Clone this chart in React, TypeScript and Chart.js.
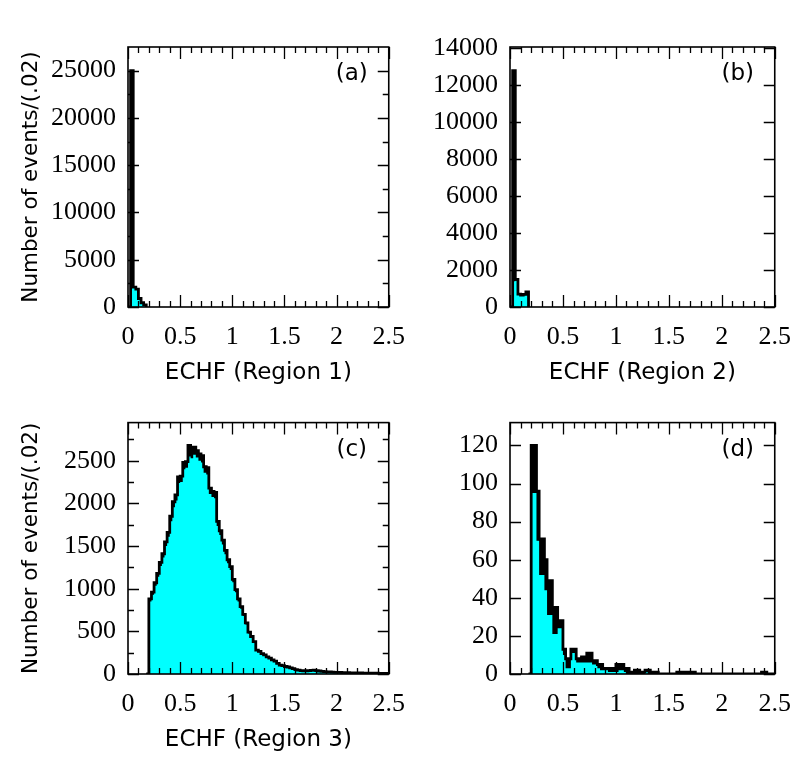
import React, { useEffect, useRef } from "react";
import { Chart, registerables } from "chart.js";

Chart.register(...registerables);

// ---------------- data ----------------
const BIN_WIDTH = 0.025;
const X_TICKS = [0, 0.5, 1, 1.5, 2, 2.5];
const Y_TITLE = "Number of events/(.02)";

// (a) Region 1
const startA = 0;
const totalA = [25000, 2100, 1900, 900, 450, 220, 100];
const cyanA = [2000, 2050, 1800, 750, 350, 150, 60];
const yTicksA = [0, 5000, 10000, 15000, 20000, 25000];
const yMaxA = 27500;

// (b) Region 2
const startB = 0;
const totalB = [12800, 1500, 700, 650, 680, 820, 820];
const cyanB = [1400, 1420, 650, 600, 630, 780, 780];
const yTicksB = [0, 2000, 4000, 6000, 8000, 10000, 12000, 14000];
const yMaxB = 14080;

// (c) Region 3
const startC = 0.175;
const totalC = [
  880, 960, 1070, 1180, 1310, 1410, 1550, 1660, 1850, 2020,
  2100, 2310, 2320, 2480, 2490, 2680, 2600, 2660, 2620, 2580,
  2560, 2430, 2420, 2180, 2140, 2130, 1790, 1680, 1570, 1450,
  1340, 1260, 1110, 990, 880, 790, 700, 600, 490, 440,
  380, 280, 265, 240, 225, 200, 185, 165, 150, 125,
  105, 98, 88, 82, 72, 62, 52, 46, 40, 38,
  36, 40, 42, 44, 40, 35, 30, 28, 25, 25,
  22, 20, 18, 18, 16, 15, 15, 14, 14, 13,
  12, 12, 11, 10, 10, 10, 9, 9, 8, 8,
  8, 7, 6,
];
const cyanC = [
  850, 930, 1035, 1140, 1265, 1365, 1500, 1610, 1790, 1955,
  2035, 2240, 2250, 2400, 2420, 2550, 2530, 2570, 2540, 2500,
  2480, 2360, 2340, 2110, 2075, 2060, 1735, 1630, 1520, 1405,
  1300, 1220, 1075, 960, 850, 765, 680, 580, 475, 425,
  365, 270, 255, 230, 215, 190, 175, 158, 143, 118,
  100, 93, 83, 78, 68, 58, 49, 43, 37, 35,
  33, 37, 39, 41, 37, 32, 28, 26, 23, 23,
  20, 18, 16, 16, 14, 13, 13, 12, 12, 11,
  10, 10, 9, 8, 8, 8, 7, 7, 6, 6,
  6, 5, 4,
];
const yTicksC = [0, 500, 1000, 1500, 2000, 2500];
const yMaxC = 2948;

// (d) Region 4
const startD = 0.175;
const totalD = [
  120, 120, 96, 71, 71, 60, 49, 49, 35, 35,
  28, 28, 13, 8, 8, 13, 13, 8, 8, 9,
  9, 11, 11, 7, 7, 5, 5, 3, 3, 3,
  3, 3, 5, 5, 5, 3, 3, 1, 1, 2,
  2, 1, 1, 2, 2, 1, 1, 1, 0, 0,
  0, 0, 0, 0, 0, 1, 1, 1, 1, 1,
  1, 1, 0, 0, 0, 0, 0, 0, 0, 0,
  0, 0, 0, 0, 0, 0, 0, 0, 0, 0,
  0, 0, 0, 0, 0, 0, 0, 1, 1, 0,
  0, 0, 0,
];
const cyanD = [
  95, 95, 70, 52, 52, 44, 31, 31, 21, 21,
  24, 24, 10, 3, 3, 11, 11, 6, 6, 6,
  6, 6, 6, 5, 5, 3, 2, 2, 2, 1,
  1, 1, 1, 2, 2, 1, 0, 0, 0, 0,
  0, 0, 0, 1, 0, 0, 0, 0, 0, 0,
  0, 0, 0, 0, 0, 0, 0, 0, 0, 0,
  0, 0, 0, 0, 0, 0, 0, 0, 0, 0,
  0, 0, 0, 0, 0, 0, 0, 0, 0, 0,
  0, 0, 0, 0, 0, 0, 0, 0, 0, 0,
  0, 0, 0,
];
const yTicksD = [0, 20, 40, 60, 80, 100, 120];
const yMaxD = 132;

// ---------------- helpers ----------------
const TICK_FONT = "'Liberation Serif', 'Times New Roman', serif";
const TITLE_FONT = "'DejaVu Sans', sans-serif";

// points for a step outline where each horizontal run [edge_i, edge_i+1]
// takes the value of the point at its right end (stepped: 'before')
function histPoints(start: number, counts: number[]) {
  const pts: { x: number; y: number }[] = [{ x: start, y: 0 }];
  counts.forEach((c, i) => pts.push({ x: start + (i + 1) * BIN_WIDTH, y: c }));
  const end = start + counts.length * BIN_WIDTH;
  pts.push({ x: end, y: 0 });
  return pts;
}

type PanelProps = {
  left: number;
  top: number;
  width: number;
  height: number;
  plotLeft: number;
  plotTop: number;
  plotRight: number;
  plotBottom: number;
  start: number;
  total: number[];
  cyan: number[];
  yTicks: number[];
  yMax: number;
  yMinorStep: number;
  xTitle: string;
  yTitle: string;
  label: string;
  xTitlePad: number;
};

function Panel(p: PanelProps) {
  const ref = useRef<HTMLCanvasElement>(null);

  useEffect(() => {
    const canvas = ref.current!;
    const framePlugin = {
      id: "frame" + p.label,
      afterDraw(chart: any) {
        const { ctx, chartArea } = chart;
        const { left, right, top, bottom } = chartArea;
        const xs = chart.scales.x;
        const ys = chart.scales.y;
        ctx.save();
        ctx.strokeStyle = "#000";
        ctx.lineWidth = 1.3;
        ctx.beginPath();
        for (let k = 0; k <= 25; k++) {
          const v = k * 0.1;
          const px = Math.round(xs.getPixelForValue(v)) + 0.5;
          const len = k % 5 === 0 ? 12 : 6;
          ctx.moveTo(px, bottom);
          ctx.lineTo(px, bottom - len);
          ctx.moveTo(px, top);
          ctx.lineTo(px, top + len);
        }
        const drawY = (v: number, len: number) => {
          const py = Math.round(ys.getPixelForValue(v)) + 0.5;
          ctx.moveTo(left, py);
          ctx.lineTo(left + len, py);
          ctx.moveTo(right, py);
          ctx.lineTo(right - len, py);
        };
        p.yTicks.forEach((v) => drawY(v, 11));
        if (p.yMinorStep > 0) {
          for (let v = p.yMinorStep; v < p.yMax; v += p.yMinorStep) {
            if (!p.yTicks.includes(v)) drawY(v, 6);
          }
        }
        ctx.stroke();
        ctx.lineWidth = 1.6;
        ctx.strokeRect(left, top, right - left, bottom - top);
        ctx.fillStyle = "#000";
        ctx.font = "23px " + TITLE_FONT;
        ctx.textAlign = "center";
        ctx.textBaseline = "middle";
        ctx.fillText(p.label, right - 37, top + 27);
        ctx.restore();
      },
    };

    const chart = new Chart(canvas, {
      type: "line",
      data: {
        datasets: [
          {
            data: histPoints(p.start, p.total),
            borderColor: "#000",
            borderWidth: 2.8,
            fill: false,
            stepped: "before",
            pointRadius: 0,
            order: 0,
          },
          {
            data: histPoints(p.start, p.cyan),
            borderColor: "rgba(0,0,0,0)",
            backgroundColor: "#00ffff",
            borderWidth: 0,
            fill: "origin",
            stepped: "before",
            pointRadius: 0,
            order: 1,
          },
          {
            data: histPoints(p.start, p.total),
            borderColor: "#000",
            backgroundColor: "#000",
            borderWidth: 1,
            fill: "origin",
            stepped: "before",
            pointRadius: 0,
            order: 2,
          },
        ],
      } as any,
      options: {
        responsive: false,
        animation: false,
        devicePixelRatio: 1,
        events: [],
        layout: {
          padding: {
            left: 0,
            top: p.plotTop,
            right: p.width - p.plotRight,
            bottom: 0,
          },
        },
        plugins: {
          legend: { display: false },
          tooltip: { enabled: false },
        },
        scales: {
          x: {
            type: "linear",
            min: 0,
            max: 2.5,
            afterBuildTicks: (s: any) => {
              s.ticks = X_TICKS.map((v) => ({ value: v }));
            },
            afterFit: (s: any) => {
              s.height = p.height - p.plotBottom;
            },
            grid: { display: false, drawTicks: false },
            border: { display: false },
            ticks: {
              autoSkip: false,
              maxRotation: 0,
              padding: 15,
              color: "#000",
              font: { family: TICK_FONT, size: 26 },
              callback: (v: any) => String(v),
            },
            title: {
              display: p.xTitle !== "",
              text: p.xTitle,
              color: "#000",
              font: { family: TITLE_FONT, size: 23 },
              padding: { top: 0, bottom: p.xTitlePad },
            },
          },
          y: {
            type: "linear",
            min: 0,
            max: p.yMax,
            afterBuildTicks: (s: any) => {
              s.ticks = p.yTicks.map((v) => ({ value: v }));
            },
            afterFit: (s: any) => {
              s.width = p.plotLeft;
            },
            grid: { display: false, drawTicks: false },
            border: { display: false },
            ticks: {
              autoSkip: false,
              padding: 12,
              color: "#000",
              font: { family: TICK_FONT, size: 26 },
              callback: (v: any) => String(v),
            },
            title: {
              display: p.yTitle !== "",
              text: p.yTitle,
              color: "#000",
              font: { family: TITLE_FONT, size: 21.5 },
              padding: { top: 19, bottom: 0 },
            },
          },
        },
      } as any,
      plugins: [framePlugin],
    });
    return () => chart.destroy();
  }, []);

  return (
    <canvas
      ref={ref}
      width={p.width}
      height={p.height}
      style={{
        position: "absolute",
        left: p.left,
        top: p.top,
        width: p.width,
        height: p.height,
      }}
    />
  );
}

export default function App() {
  return (
    <div
      style={{
        position: "absolute",
        left: 0,
        top: 0,
        width: 806,
        height: 761,
        background: "#fff",
      }}
    >
      <Panel
        left={0}
        top={0}
        width={420}
        height={395}
        plotLeft={128}
        plotTop={47}
        plotRight={402}
        plotBottom={307}
        start={startA}
        total={totalA}
        cyan={cyanA}
        yTicks={yTicksA}
        yMax={yMaxA}
        yMinorStep={2500}
        xTitle="ECHF (Region 1)"
        yTitle={Y_TITLE}
        label="(a)"
        xTitlePad={8}
      />
      <Panel
        left={420}
        top={0}
        width={386}
        height={395}
        plotLeft={90}
        plotTop={47}
        plotRight={362}
        plotBottom={307}
        start={startB}
        total={totalB}
        cyan={cyanB}
        yTicks={yTicksB}
        yMax={yMaxB}
        yMinorStep={0}
        xTitle="ECHF (Region 2)"
        yTitle=""
        label="(b)"
        xTitlePad={8}
      />
      <Panel
        left={0}
        top={395}
        width={420}
        height={366}
        plotLeft={128}
        plotTop={19}
        plotRight={402}
        plotBottom={279}
        start={startC}
        total={totalC}
        cyan={cyanC}
        yTicks={yTicksC}
        yMax={yMaxC}
        yMinorStep={250}
        xTitle="ECHF (Region 3)"
        yTitle={Y_TITLE}
        label="(c)"
        xTitlePad={7}
      />
      <Panel
        left={420}
        top={395}
        width={386}
        height={366}
        plotLeft={90}
        plotTop={19}
        plotRight={362}
        plotBottom={279}
        start={startD}
        total={totalD}
        cyan={cyanD}
        yTicks={yTicksD}
        yMax={yMaxD}
        yMinorStep={0}
        xTitle=""
        yTitle=""
        label="(d)"
        xTitlePad={7}
      />
    </div>
  );
}
